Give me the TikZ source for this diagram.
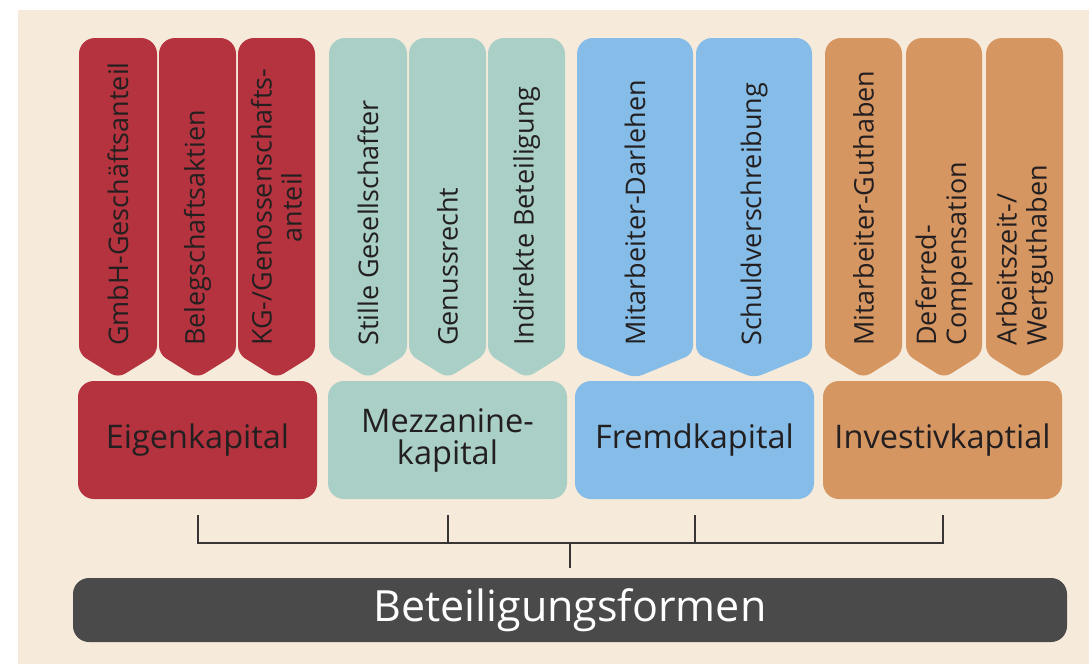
\documentclass[tikz,border=0pt]{standalone}
\usepackage{fontspec}
\setmainfont{Open Sans}
\usetikzlibrary{calc}

\begin{document}
\begin{tikzpicture}[x=1pt,y=-1pt]
\useasboundingbox (0,0) rectangle (1089,664);

% Colours of the four groups
\definecolor{bgbeige}{RGB}{246,234,218}
\definecolor{eigenred}{RGB}{181,51,62}
\definecolor{mezzteal}{RGB}{169,207,198}
\definecolor{fremdblue}{RGB}{134,189,232}
\definecolor{investorange}{RGB}{214,150,98}
\definecolor{basegray}{RGB}{74,74,74}
\definecolor{textdark}{RGB}{35,31,32}

% Background panel
\fill[bgbeige] (18,10) rectangle (1089,664);

% Styles for the vertical labels, the group boxes and the base bar
\tikzstyle{tablabel}=[font=\fontsize{27}{30}\selectfont, text=textdark, rotate=90, anchor=west, inner sep=0pt]
\tikzstyle{groupbox}=[font=\fontsize{32.5}{32}\selectfont, text=textdark, rounded corners=16, minimum width=239, minimum height=118, align=center, inner sep=0pt]
\tikzstyle{bracket}=[line width=2pt, draw=textdark!90]

% This command draws a single tab with its label
\newcommand{\drawtab}[6]{
% #1, #2 = left and right edge of the tab
% #3 = colour
% #4 = node name, #5 = alignment of the lines, #6 = text
\fill[#3, rounded corners=8] (#1,200) -- (#1,354) -- ({(#1+#2)/2},378) -- (#2,354) [rounded corners=16] -- (#2,38) -- (#1,38) -- cycle;
\node[tablabel, align=#5] (#4) at ({(#1+#2)/2},346) {#6};
} % End of definition of `drawtab`

% Eigenkapital
\drawtab{79}{157}{eigenred}{gmbh}{left}{GmbH-Geschäftsanteil}
\drawtab{159}{236}{eigenred}{beleg}{left}{Belegschaftsaktien}
\drawtab{238}{315}{eigenred}{kg}{center}{KG-/Genossenschafts-\\anteil}

% Mezzaninekapital
\drawtab{329}{407}{mezzteal}{still}{left}{Stille Gesellschafter}
\drawtab{409}{486}{mezzteal}{genuss}{left}{Genussrecht}
\drawtab{488}{565}{mezzteal}{indirekt}{left}{Indirekte Beteiligung}

% Fremdkapital
\drawtab{577}{693}{fremdblue}{darlehen}{left}{Mitarbeiter-Darlehen}
\drawtab{696}{812}{fremdblue}{schuld}{left}{Schuldverschreibung}

% Investivkapital
\drawtab{825}{902}{investorange}{guthaben}{left}{Mitarbeiter-Guthaben}
\drawtab{906}{982}{investorange}{deferred}{left}{Deferred-\\Compensation}
\drawtab{986}{1063}{investorange}{arbeitszeit}{left}{Arbeitszeit-/\\Wertguthaben}

% The four group boxes
\node[groupbox, fill=eigenred] (eigen) at (197.5,440) {Eigenkapital};
\node[groupbox, fill=mezzteal] (mezz) at (447.5,440) {Mezzanine-\\kapital};
\node[groupbox, fill=fremdblue] (fremd) at (694.5,440) {Fremdkapital};
\node[groupbox, fill=investorange] (invest) at (942.5,440) {Investivkaptial};

% Base bar
\node[fill=basegray, text=white, rounded corners=16, minimum width=994, minimum height=64,
  font=\fontsize{43}{43}\selectfont, inner sep=0pt] (base) at (570,610) {Beteiligungsformen};

% Bracket joining the groups to the base
\draw[bracket] ([yshift=-16pt]eigen.south) -- ++(0,28) -| ([yshift=-16pt]invest.south);
\draw[bracket] ([yshift=-16pt]mezz.south) -- ++(0,28);
\draw[bracket] ([yshift=-16pt]fremd.south) -- ++(0,28);
\draw[bracket] ([yshift=10pt]base.north) -- ++(0,-25);

\end{tikzpicture}
\end{document}
